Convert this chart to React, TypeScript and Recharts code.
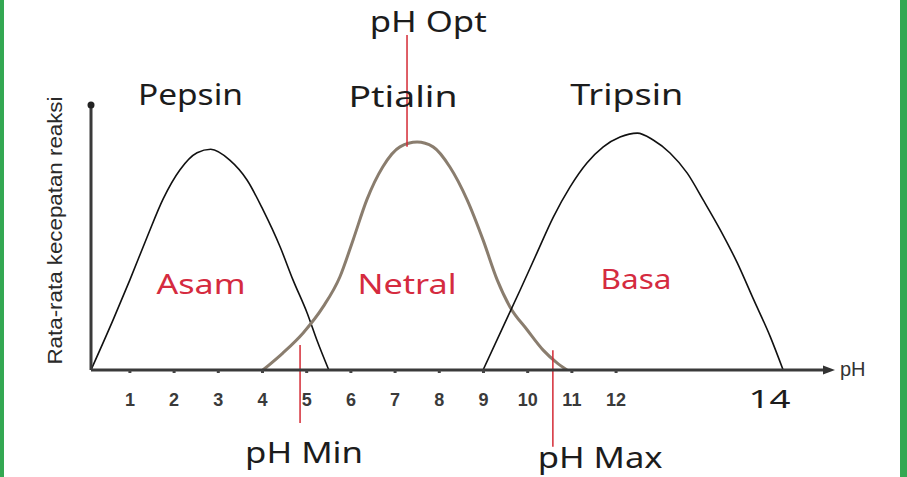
import { LineChart, Line, XAxis, YAxis, ReferenceLine, ReferenceDot } from 'recharts'

// pH on the x axis, reaction rate (0-100) on the y axis
const PH_TICKS = [1, 2, 3, 4, 5, 6, 7, 8, 9, 10, 11, 12]
const PH_DOMAIN = [0.12, 16.84]
const RATE_DOMAIN = [0, 100]

const PEPSIN = [
  { ph: 0.12, rate: 0 },
  { ph: 0.62, rate: 18.9 },
  { ph: 1.0, rate: 34 },
  { ph: 1.39, rate: 50.2 },
  { ph: 1.75, rate: 64.5 },
  { ph: 2.13, rate: 75.5 },
  { ph: 2.52, rate: 82 },
  { ph: 2.83, rate: 83.3 },
  { ph: 3.26, rate: 79.2 },
  { ph: 3.65, rate: 71.7 },
  { ph: 4.01, rate: 60.5 },
  { ph: 4.4, rate: 46.4 },
  { ph: 4.69, rate: 34 },
  { ph: 5.01, rate: 21.5 },
  { ph: 5.23, rate: 11.3 },
  { ph: 5.5, rate: 0 },
]

const PTIALIN = [
  { ph: 4.01, rate: 0 },
  { ph: 4.46, rate: 6.4 },
  { ph: 4.92, rate: 14 },
  { ph: 5.37, rate: 23.8 },
  { ph: 5.75, rate: 35.1 },
  { ph: 6.05, rate: 49.1 },
  { ph: 6.36, rate: 64.2 },
  { ph: 6.72, rate: 76.6 },
  { ph: 7.11, rate: 84.2 },
  { ph: 7.5, rate: 86 },
  { ph: 7.86, rate: 84.2 },
  { ph: 8.24, rate: 76.6 },
  { ph: 8.63, rate: 64.2 },
  { ph: 8.99, rate: 49.1 },
  { ph: 9.31, rate: 34 },
  { ph: 9.6, rate: 23.8 },
  { ph: 9.99, rate: 15.1 },
  { ph: 10.35, rate: 7.5 },
  { ph: 10.67, rate: 2.6 },
  { ph: 10.89, rate: 0 },
]

const TRIPSIN = [
  { ph: 8.99, rate: 0 },
  { ph: 9.44, rate: 16.2 },
  { ph: 9.83, rate: 30.2 },
  { ph: 10.21, rate: 44.2 },
  { ph: 10.58, rate: 57.7 },
  { ph: 10.96, rate: 69.1 },
  { ph: 11.34, rate: 78.1 },
  { ph: 11.71, rate: 84.2 },
  { ph: 12.09, rate: 87.9 },
  { ph: 12.48, rate: 89.4 },
  { ph: 12.84, rate: 86.8 },
  { ph: 13.22, rate: 81.9 },
  { ph: 13.61, rate: 74.3 },
  { ph: 13.97, rate: 64.2 },
  { ph: 14.36, rate: 52.8 },
  { ph: 14.74, rate: 40.5 },
  { ph: 15.1, rate: 27 },
  { ph: 15.49, rate: 12.5 },
  { ph: 15.78, rate: 0 },
]

// red marker lines: pH min / opt / max
const MARK_PH = [4.85, 7.27, 10.57]
const MARK_FROM = [9.4, 84.2, 7.5]
const MARK_TO = [-20, 126.4, -29]

const ENZYME_NAMES = ['Pepsin', 'Ptialin', 'Tripsin']
const ENZYME_PH = [2.37, 7.18, 12.24]
const ENZYME_RATE = [104.5, 103.4, 104.5]

const ZONE_NAMES = ['Asam', 'Netral', 'Basa']
const ZONE_PH = [2.61, 7.27, 12.45]
const ZONE_RATE = [32.8, 32.8, 34.7]

const MARK_NAMES = ['pH Min', 'pH Opt', 'pH Max', '14']
const MARK_LABEL_PH = [4.94, 7.75, 11.64, 15.47]
const MARK_LABEL_RATE = [-30.6, 132, -32.5, -10.6]

const TEXT_WIDTH: Record<string, number> = {
  Pepsin: 105, Ptialin: 109, Tripsin: 113,
  Asam: 89, Netral: 99, Basa: 71,
  'pH Min': 118, 'pH Opt': 117, 'pH Max': 125, '14': 42,
}

const HAND = '"Noto Sans", sans-serif'
const SANS = '"Liberation Sans", Arial, sans-serif'

function Note(props: any) {
  const { viewBox, text, color, size } = props
  const x = viewBox.x + viewBox.width / 2
  const y = viewBox.y + viewBox.height / 2
  return (
    <text
      x={x}
      y={y}
      textAnchor="middle"
      dominantBaseline="central"
      fill={color}
      fontSize={size}
      fontFamily={HAND}
      textLength={TEXT_WIDTH[text]}
      lengthAdjust="spacingAndGlyphs"
    >
      {text}
    </text>
  )
}

function AxisName(props: any) {
  const { viewBox } = props
  return (
    <text
      x={viewBox.x + viewBox.width + 9}
      y={viewBox.y + viewBox.height / 2 - 1}
      dominantBaseline="central"
      fill="#333"
      fontSize={20}
      fontFamily={SANS}
    >
      pH
    </text>
  )
}

function YTitle(props: any) {
  const { viewBox } = props
  const x = viewBox.x + viewBox.width - 36
  const y = viewBox.y + viewBox.height / 2 - 7
  return (
    <text
      x={x}
      y={y}
      transform={`rotate(-90 ${x} ${y})`}
      textAnchor="middle"
      dominantBaseline="central"
      fill="#2a2a2a"
      fontSize={20}
      fontFamily={SANS}
      textLength={268}
      lengthAdjust="spacingAndGlyphs"
    >
      Rata-rata kecepatan reaksi
    </text>
  )
}

function PhTick(props: any) {
  const { x, y, payload } = props
  return (
    <text x={x} y={y} dy="0.71em" textAnchor="middle" fill="#3a3a3a" fontSize={18} fontWeight="bold" fontFamily={SANS}>
      {payload.value}
    </text>
  )
}

const arrowHead = ({ cx, cy }: any) => (
  <path d={`M${cx - 7},${cy - 4.5}L${cx + 5},${cy}L${cx - 7},${cy + 4.5}Z`} fill="#333" />
)

function label(text: string, ph: number, rate: number, color: string, size: number) {
  return (
    <ReferenceDot
      key={text}
      x={ph}
      y={rate}
      r={1}
      fill="none"
      stroke="none"
      ifOverflow="visible"
      label={<Note text={text} color={color} size={size} />}
    />
  )
}

export default function App() {
  return (
    <div style={{ position: 'fixed', left: 0, top: 0, width: 907, height: 477, background: '#fff' }}>
      <div style={{ position: 'absolute', left: 0, top: 0, width: 4, height: 477, background: '#33a852' }} />
      <div style={{ position: 'absolute', left: 900, top: 0, width: 7, height: 477, background: '#33a852' }} />
      <LineChart
        width={907}
        height={477}
        margin={{ top: 105, right: 77, bottom: 77, left: 51 }}
        style={{ position: 'absolute', left: 0, top: 0 }}
      >
        <XAxis
          type="number"
          dataKey="ph"
          domain={PH_DOMAIN}
          allowDataOverflow
          ticks={PH_TICKS}
          height={30}
          axisLine={{ stroke: '#3a3a3a', strokeWidth: 3 }}
          tickLine={{ stroke: '#444', strokeWidth: 3 }}
          tickSize={3}
          tickMargin={20}
          tick={<PhTick />}
        />
        <YAxis
          type="number"
          domain={RATE_DOMAIN}
          allowDataOverflow
          width={40}
          tick={false}
          tickLine={false}
          axisLine={{ stroke: '#3a3a3a', strokeWidth: 3 }}
          label={<YTitle />}
        />
        <Line data={PEPSIN} dataKey="rate" type="monotone" stroke="#111" strokeWidth={1.6} dot={false} isAnimationActive={false} />
        <Line data={PTIALIN} dataKey="rate" type="monotone" stroke="#8a7d6e" strokeWidth={3} dot={false} isAnimationActive={false} />
        <Line data={TRIPSIN} dataKey="rate" type="monotone" stroke="#111" strokeWidth={1.6} dot={false} isAnimationActive={false} />
        {MARK_PH.map((ph, i) => (
          <ReferenceLine
            key={`m${i}`}
            segment={[{ x: ph, y: MARK_FROM[i] }, { x: ph, y: MARK_TO[i] }]}
            stroke="#d42a35"
            strokeWidth={1.5}
            ifOverflow="visible"
          />
        ))}
        <ReferenceDot x={PH_DOMAIN[1]} y={0} r={1} ifOverflow="visible" shape={arrowHead} />
        <ReferenceDot x={PH_DOMAIN[0]} y={RATE_DOMAIN[1]} r={3.5} fill="#222" stroke="none" ifOverflow="visible" />
        <ReferenceDot
          x={PH_DOMAIN[1]}
          y={0}
          r={1}
          fill="none"
          stroke="none"
          ifOverflow="visible"
          label={<AxisName />}
        />
        {ENZYME_NAMES.map((n, i) => label(n, ENZYME_PH[i], ENZYME_RATE[i], '#1c1c1c', 29))}
        {ZONE_NAMES.map((n, i) => label(n, ZONE_PH[i], ZONE_RATE[i], '#d52b3f', 28))}
        {MARK_NAMES.map((n, i) => label(n, MARK_LABEL_PH[i], MARK_LABEL_RATE[i], '#1c1c1c', n === '14' ? 26 : 29))}
      </LineChart>
    </div>
  )
}
